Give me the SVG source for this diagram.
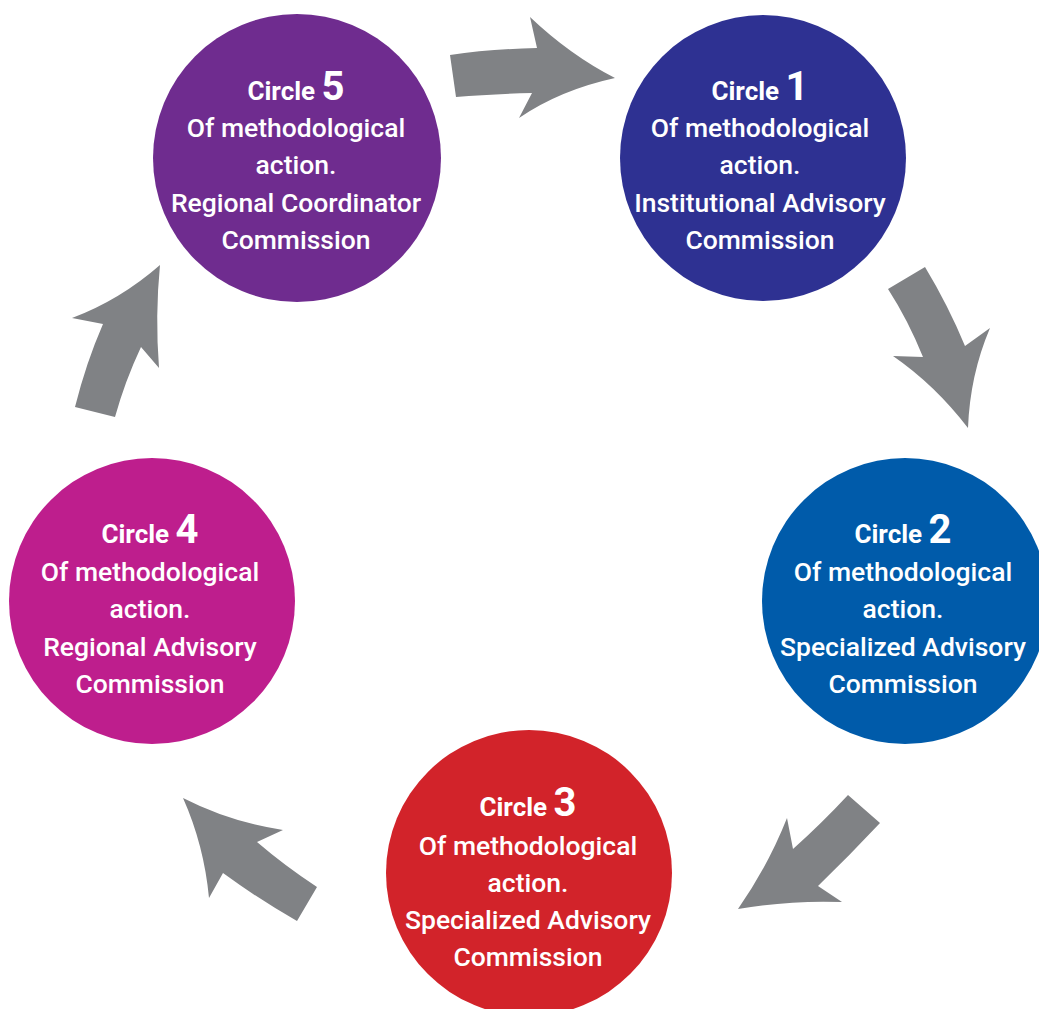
<svg xmlns="http://www.w3.org/2000/svg" width="1039" height="1009" viewBox="0 0 1039 1009">
  <style>
    .arrow { fill: #808285; }
    .t { font-family: Roboto, "Liberation Sans", sans-serif; font-size: 26.5px; font-weight: 500; fill: #ffffff; text-anchor: middle; }
    .h { font-weight: 700; font-size: 26px; }
    .n { font-weight: 700; font-size: 40px; }
  </style>
  <rect width="1039" height="1009" fill="#ffffff"/>

  <!-- connectors: curved block arrows running clockwise -->
  <g id="connectors">
    <path class="arrow" d="M450,55 Q490,49 537,48 L530,17 Q570,55 615,78 Q560,90 519,118 L532,93 Q490,94 456,97 Z"/>
    <path class="arrow" d="M888,289 L925,267 Q948,305 965,346 L990,328 Q970,375 968,428 Q935,385 893,356 L923,357 Q908,320 888,289 Z"/>
    <path class="arrow" d="M848,795 L880,823 Q850,855 818,886 L842,902 Q790,900 738,909 Q768,866 787,818 L793,849 Q822,823 848,795 Z"/>
    <path class="arrow" d="M297,921 L317,887 Q285,866 257,842 L283,830 Q230,822 183,798 Q204,845 209,898 L223,873 Q260,900 297,921 Z"/>
    <path class="arrow" d="M75,407 L115,417 Q125,381 141,347 L159,368 Q155,315 160,265 Q120,300 72,318 L103,324 Q86,363 75,407 Z"/>
  </g>

  <g id="circle5">
    <circle cx="297" cy="158" r="144" fill="#6F2C8F"/>
    <text class="t" x="296" y="100"><tspan class="h">Circle </tspan><tspan class="n">5</tspan></text>
    <text class="t" x="296" y="137">Of methodological</text>
    <text class="t" x="296" y="174">action.</text>
    <text class="t" x="296" y="212">Regional Coordinator</text>
    <text class="t" x="296" y="249">Commission</text>
  </g>

  <g id="circle1">
    <circle cx="763" cy="158" r="143" fill="#2E3192"/>
    <text class="t" x="760" y="100"><tspan class="h">Circle </tspan><tspan class="n">1</tspan></text>
    <text class="t" x="760" y="137">Of methodological</text>
    <text class="t" x="760" y="174">action.</text>
    <text class="t" x="760" y="212">Institutional Advisory</text>
    <text class="t" x="760" y="249">Commission</text>
  </g>

  <g id="circle2">
    <circle cx="905" cy="601" r="143" fill="#005BAA"/>
    <text class="t" x="903" y="543"><tspan class="h">Circle </tspan><tspan class="n">2</tspan></text>
    <text class="t" x="903" y="581">Of methodological</text>
    <text class="t" x="903" y="618">action.</text>
    <text class="t" x="903" y="656">Specialized Advisory</text>
    <text class="t" x="903" y="693">Commission</text>
  </g>

  <g id="circle3">
    <circle cx="529" cy="873" r="143" fill="#D2232A"/>
    <text class="t" x="528" y="816"><tspan class="h">Circle </tspan><tspan class="n">3</tspan></text>
    <text class="t" x="528" y="855">Of methodological</text>
    <text class="t" x="528" y="892">action.</text>
    <text class="t" x="528" y="929">Specialized Advisory</text>
    <text class="t" x="528" y="966">Commission</text>
  </g>

  <g id="circle4">
    <circle cx="152" cy="601" r="143" fill="#BE1E8D"/>
    <text class="t" x="150" y="543"><tspan class="h">Circle </tspan><tspan class="n">4</tspan></text>
    <text class="t" x="150" y="581">Of methodological</text>
    <text class="t" x="150" y="618">action.</text>
    <text class="t" x="150" y="656">Regional Advisory</text>
    <text class="t" x="150" y="693">Commission</text>
  </g>
</svg>
